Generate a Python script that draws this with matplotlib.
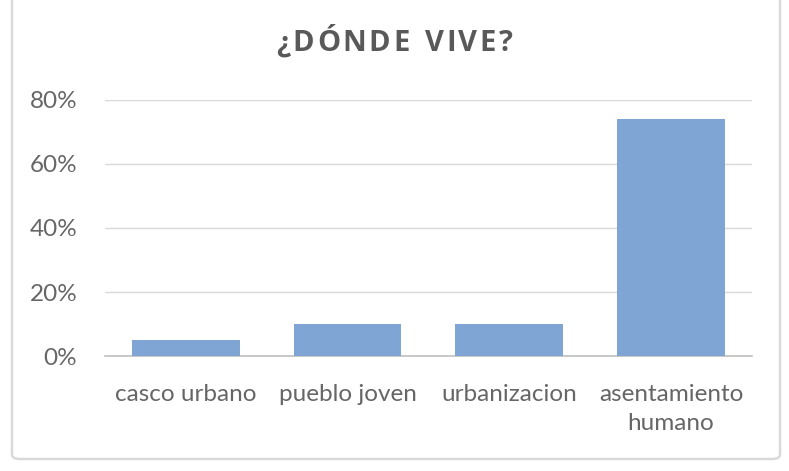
import matplotlib.pyplot as plt
from matplotlib.patches import FancyBboxPatch
from matplotlib.ticker import FuncFormatter

categories = ["casco urbano", "pueblo joven", "urbanizacion", "asentamiento\nhumano"]
values = [5, 10, 10, 74]
yticks = [0, 20, 40, 60, 80]
title = "¿DÓNDE VIVE?"

text_color = "#666666"
bar_color = "#7EA5D3"

fig = plt.figure(figsize=(7.89, 4.71), dpi=100)
ax = fig.add_axes([0.133, 0.244, 0.82, 0.544])

ax.bar(range(len(categories)), values, width=0.667, color=bar_color, zorder=3)
ax.set_xlim(-0.5, len(categories) - 0.5)
ax.set_ylim(0, 80)
ax.set_yticks(yticks)
ax.yaxis.set_major_formatter(FuncFormatter(lambda v, p: f"{v:.0f}%"))
ax.set_xticks(range(len(categories)))
ax.set_xticklabels(categories, linespacing=1.45)

ax.grid(axis="y", color="#D9D9D9", linewidth=1, zorder=0)
for s in ["top", "right", "left"]:
    ax.spines[s].set_visible(False)
ax.spines["bottom"].set_color("#BFBFBF")
ax.spines["bottom"].set_linewidth(1.2)
ax.tick_params(length=0, labelsize=17.5, colors=text_color)
ax.tick_params(axis="x", pad=20)
ax.tick_params(axis="y", pad=20)
for lbl in ax.get_xticklabels() + ax.get_yticklabels():
    lbl.set_family(["Lato", "DejaVu Sans"])

# title with wide letter spacing: place each character
renderer = fig.canvas.get_renderer()
tkw = dict(fontsize=21, fontweight="bold", color="#595959",
           family=["Open Sans", "DejaVu Sans"], va="center")
spacing = 2.5  # extra px between letters
widths = []
for ch in title:
    t = fig.text(0, 0, ch if ch != " " else "n", **tkw)
    w = t.get_window_extent(renderer).width
    if ch == " ":
        w *= 0.55
    widths.append(w)
    t.remove()
total = sum(widths) + spacing * (len(title) - 1)
x = fig.bbox.width / 2 - total / 2
for ch, w in zip(title, widths):
    if ch != " ":
        fig.text(x / fig.bbox.width, 0.907, ch, ha="left", **tkw)
    x += w + spacing

# outer chart border (top edge falls outside the image)
fig.patches.append(FancyBboxPatch((0.0152, 0.0255), 0.9734, 1.05,
                                  boxstyle="round,pad=0,rounding_size=0.01",
                                  transform=fig.transFigure, fill=False,
                                  edgecolor="#D9D9D9", linewidth=1.8))

fig.savefig("out.png", dpi=100)
